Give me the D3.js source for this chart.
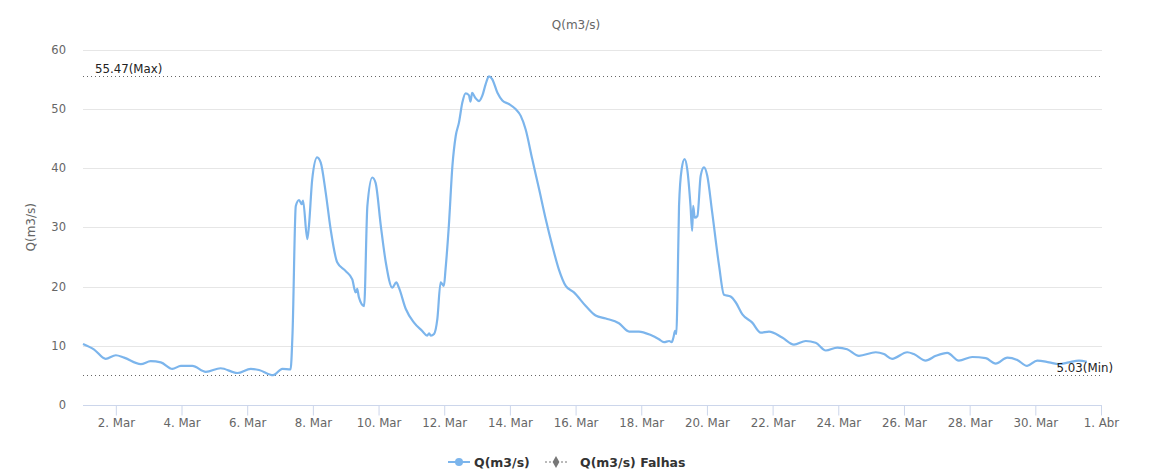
<!DOCTYPE html>
<html>
<head>
<meta charset="utf-8">
<script src="https://cdn.jsdelivr.net/npm/d3@7"></script>
<style>
  html, body { margin: 0; padding: 0; background: #fff; }
  svg { display: block; font-family: "DejaVu Sans", Verdana, sans-serif; }
</style>
</head>
<body>
<svg id="chart" width="1161" height="469"></svg>
<script>
// ---- data (days since 1 Mar, 00:00) ----
const dayOffsets = [
  0.00, 0.33, 0.69, 1.00, 1.25, 1.76, 2.06, 2.37, 2.72, 2.98,
  3.33, 3.74, 4.19, 4.70, 5.11, 5.36, 5.79, 6.07, 6.32, 6.38,
  6.48, 6.58, 6.66, 6.70, 6.83, 6.88, 6.98, 7.13, 7.24, 7.39,
  7.54, 7.74, 8.00, 8.20, 8.30, 8.35, 8.40, 8.56, 8.66, 8.81,
  8.91, 9.07, 9.22, 9.42, 9.54, 9.62, 9.83, 10.08, 10.33, 10.48,
  10.54, 10.59, 10.69, 10.79, 10.89, 10.99, 11.04, 11.14, 11.25, 11.35,
  11.45, 11.55, 11.65, 11.75, 11.80, 11.85, 11.94, 12.06, 12.16, 12.26,
  12.36, 12.46, 12.62, 12.77, 12.97, 13.18, 13.33, 13.48, 13.68, 13.89,
  14.09, 14.29, 14.49, 14.70, 14.95, 15.31, 15.61, 15.92, 16.32, 16.63,
  16.93, 17.29, 17.54, 17.69, 17.85, 17.93, 17.98, 18.03, 18.07, 18.10,
  18.15, 18.23, 18.32, 18.40, 18.50, 18.55, 18.58, 18.63, 18.71, 18.81,
  18.91, 19.01, 19.16, 19.37, 19.52, 19.72, 19.88, 20.08, 20.38, 20.64,
  20.89, 21.29, 21.65, 22.01, 22.31, 22.62, 22.97, 23.27, 23.63, 24.14,
  24.39, 24.64, 25.10, 25.30, 25.66, 25.97, 26.32, 26.67, 27.08, 27.49,
  27.79, 28.15, 28.45, 28.75, 29.06, 29.42, 29.72, 30.02, 30.33, 30.57
];
const flowValues = [
  10.3, 9.4, 7.8, 8.4, 8.0, 6.9, 7.4, 7.2, 6.1, 6.6,
  6.6, 5.6, 6.2, 5.4, 6.1, 5.9, 5.03, 6.1, 6.0, 12.0,
  33.6, 34.6, 33.9, 34.5, 28.0, 30.2, 38.1, 41.8, 40.9, 35.9,
  29.7, 24.1, 22.6, 21.2, 19.0, 19.6, 18.2, 16.7, 33.6, 38.4,
  37.5, 30.2, 24.1, 19.8, 20.7, 19.8, 16.2, 13.9, 12.5, 11.7,
  12.1, 11.7, 12.0, 14.5, 20.7, 20.1, 22.9, 30.2, 40.4, 45.4,
  47.7, 51.0, 52.6, 52.3, 51.2, 52.7, 51.9, 51.3, 52.2, 54.1,
  55.47, 55.0, 52.7, 51.4, 50.8, 49.9, 48.8, 46.5, 41.5, 36.4,
  31.4, 26.9, 22.9, 20.1, 19.0, 16.7, 15.1, 14.6, 13.8, 12.4,
  12.4, 11.8, 11.1, 10.6, 10.8, 10.6, 11.4, 12.5, 12.0, 17.9,
  33.6, 39.8, 41.5, 39.8, 33.6, 29.4, 33.6, 31.6, 31.9, 38.7,
  40.1, 38.7, 32.5, 23.5, 18.6, 18.3, 17.3, 15.3, 13.9, 12.2,
  12.4, 11.4, 10.2, 10.8, 10.5, 9.2, 9.7, 9.4, 8.3, 8.9,
  8.6, 7.8, 8.9, 8.6, 7.5, 8.3, 8.8, 7.5, 8.1, 7.9,
  7.0, 8.0, 7.6, 6.6, 7.5, 7.2, 6.9, 7.2, 7.5, 7.3
];
const tickDays = [1, 3, 5, 7, 9, 11, 13, 15, 17, 19, 21, 23, 25, 27, 29, 31];
const tickLabels = ["2. Mar", "4. Mar", "6. Mar", "8. Mar", "10. Mar", "12. Mar", "14. Mar",
  "16. Mar", "18. Mar", "20. Mar", "22. Mar", "24. Mar", "26. Mar", "28. Mar", "30. Mar", "1. Abr"];
const yTicks = [0, 10, 20, 30, 40, 50, 60];
const maxValue = 55.47;
const minValue = 5.03;
const seriesNames = ["Q(m3/s)", "Q(m3/s) Falhas"];
const subtitleText = "Q(m3/s)";
const yTitle = "Q(m3/s)";

// ---- layout ----
const svg = d3.select("#chart");
const plotLeft = 83, plotRight = 1101, plotTop = 49.5, plotBottom = 405;
const x = d3.scaleLinear().domain([0, 31]).range([plotLeft, plotRight]);
const y = d3.scaleLinear().domain([0, 60]).range([plotBottom, plotTop]);
const data = dayOffsets.map((d, i) => ({ d, v: flowValues[i] }));

// gridlines
svg.append("g").selectAll("line").data(yTicks.filter(t => t > 0)).join("line")
  .attr("x1", plotLeft).attr("x2", plotRight + 1)
  .attr("y1", d => Math.round(y(d)) + 0.5).attr("y2", d => Math.round(y(d)) + 0.5)
  .attr("stroke", "#e6e6e6").attr("stroke-width", 1);

// y labels
svg.append("g").selectAll("text").data(yTicks).join("text")
  .attr("x", 66).attr("y", d => y(d) + 4)
  .attr("text-anchor", "end").attr("font-size", 11.5).attr("fill", "#666")
  .text(d => d);

// x axis
const xAxis = d3.axisBottom(x).tickValues(tickDays).tickSize(10)
  .tickFormat((d, i) => tickLabels[i]);
const gx = svg.append("g").attr("transform", `translate(0,${Math.round(plotBottom) + 0.5})`).call(xAxis);
gx.select(".domain").attr("stroke", "#ccd6eb").attr("d", `M${plotLeft},0H${plotRight + 1}`);
gx.selectAll(".tick line").attr("stroke", "#ccd6eb");
gx.selectAll(".tick text").attr("fill", "#666").attr("font-size", 11.8)
  .attr("font-family", "DejaVu Sans, sans-serif").attr("dy", "0.9em").attr("y", 11);

// max / min plot lines
[maxValue, minValue].forEach(v => {
  svg.append("line")
    .attr("x1", plotLeft).attr("x2", plotRight)
    .attr("y1", Math.round(y(v)) + 0.5).attr("y2", Math.round(y(v)) + 0.5)
    .attr("stroke", "#666").attr("stroke-width", 1).attr("stroke-dasharray", "1,3");
});

// series line
const line = d3.line().x(p => x(p.d)).y(p => y(p.v)).curve(d3.curveMonotoneX);
svg.append("path").datum(data)
  .attr("d", line).attr("fill", "none")
  .attr("stroke", "#7cb5ec").attr("stroke-width", 2.2).attr("stroke-linejoin", "round");

// plot line labels
svg.append("text").attr("x", 95).attr("y", y(maxValue) - 3)
  .attr("font-size", 11.8).attr("fill", "#222").text(maxValue.toFixed(2) + "(Max)");
svg.append("text").attr("x", 1113).attr("y", y(minValue) - 3)
  .attr("text-anchor", "end").attr("font-size", 11.8).attr("fill", "#222")
  .text(minValue.toFixed(2) + "(Min)");

// subtitle
svg.append("text").attr("x", 576).attr("y", 29).attr("text-anchor", "middle")
  .attr("font-size", 12).attr("fill", "#666").text(subtitleText);

// y axis title
svg.append("text").attr("transform", `translate(35,${(plotTop + plotBottom) / 2}) rotate(-90)`)
  .attr("text-anchor", "middle").attr("font-size", 12).attr("fill", "#666").text(yTitle);

// legend
const lg = svg.append("g").attr("transform", "translate(0,462)");
lg.append("line").attr("x1", 448).attr("x2", 470).attr("y1", 0).attr("y2", 0)
  .attr("stroke", "#7cb5ec").attr("stroke-width", 2);
lg.append("circle").attr("cx", 459).attr("cy", 0).attr("r", 4).attr("fill", "#7cb5ec");
lg.append("text").attr("x", 474).attr("y", 4.5).attr("font-size", 12.5).attr("font-weight", "bold")
  .attr("fill", "#333").text(seriesNames[0]);
lg.append("line").attr("x1", 545).attr("x2", 567).attr("y1", 0).attr("y2", 0)
  .attr("stroke", "#777").attr("stroke-width", 1).attr("stroke-dasharray", "2,2");
lg.append("path").attr("d", d3.symbol(d3.symbolDiamond, 40)()).attr("transform", "translate(556,0)")
  .attr("fill", "#777");
lg.append("text").attr("x", 580).attr("y", 4.5).attr("font-size", 12.5).attr("font-weight", "bold")
  .attr("fill", "#333").text(seriesNames[1]);
</script>
</body>
</html>
